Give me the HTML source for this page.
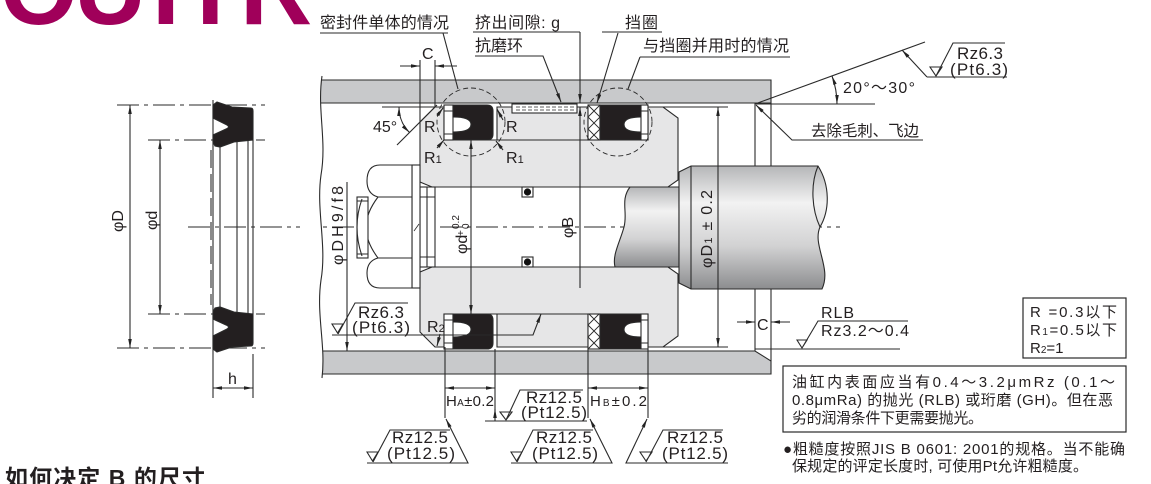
<!DOCTYPE html>
<html><head><meta charset="utf-8"><style>
html,body{margin:0;padding:0;background:#fff;}
svg{display:block;}
text{font-family:"Liberation Sans","Noto Sans CJK SC",sans-serif;fill:#231f20;stroke:none;}
</style></head><body>
<svg width="1151" height="484" viewBox="0 0 1151 484" xmlns="http://www.w3.org/2000/svg">
<defs>
<marker id="ar" viewBox="0 0 10 4" refX="10" refY="2" markerWidth="9" markerHeight="3.6" markerUnits="userSpaceOnUse" orient="auto-start-reverse"><path d="M0,0L10,2L0,4z" fill="#222" stroke="none"/></marker>
<linearGradient id="sh" x1="0" y1="0" x2="0" y2="1">
<stop offset="0" stop-color="#b5b6b8"/><stop offset="0.3" stop-color="#f2f2f2"/><stop offset="0.65" stop-color="#d2d2d3"/><stop offset="1" stop-color="#8c8d8f"/>
</linearGradient>
</defs>

<!-- logo -->
<text y="24" font-size="100" font-weight="bold" style="fill:#a0005a"><tspan x="0">O</tspan><tspan x="74">U</tspan><tspan x="152">H</tspan><tspan x="240">R</tspan></text>

<g stroke="#2a2a2a" stroke-width="1.1" fill="none">
<!-- center line -->
<path d="M188,227 H840" stroke-width="0.9" stroke-dasharray="22 5 4 5"/>

<!-- ===== Left side view ===== -->
<path d="M117,105 H265 M117,348 H265 M148,140 H265 M148,314 H265" stroke-width="0.9" stroke-dasharray="22 5 4 5"/>
<path d="M130,105 V348" marker-start="url(#ar)" marker-end="url(#ar)"/>
<path d="M160,140 V314" marker-start="url(#ar)" marker-end="url(#ar)"/>
<g id="lv">
<path d="M217,102 L232,107 L251,108 Q253,108 253,111 L253,140 L234,142 L220,147 L215,146 L213,142 L213,135 L226,129 Q231,127 226,124.5 L213,118 L213,105 Z" fill="#231f20"/>
</g>
<use href="#lv" transform="matrix(1 0 0 -1 0 454)"/>
<path d="M213,100 V354"/>
<path d="M211,150 V305" stroke-dasharray="18 6"/>
<path d="M220,147 V307 M237,142 V312 M248,140 V314 M253,140 V314"/>
<path d="M213,354 V398 M253,354 V398"/>
<path d="M213,388 H253" marker-start="url(#ar)" marker-end="url(#ar)"/>

<!-- ===== Main: cylinder ===== -->
<path d="M316,80 H771 V103 H316 Z" fill="#c8c9cb"/>
<path d="M316,351 H755 L771,361 V374 H316 Z" fill="#c8c9cb"/>
<path d="M300,76 H322 C317,110 327,140 321,175 C316,210 327,245 321,280 C316,315 326,345 322,378 H300 Z" fill="#fff" stroke="none"/>
<path d="M322,76 C317,110 327,140 321,175 C316,210 327,245 321,280 C316,315 326,345 322,378"/>
<path d="M755,103 V166 M771,103 V166 M755,289 V351 M771,289 V361"/>

<!-- piston -->
<path d="M420,122 L435,107 H444 V140 H497 V107 H588 V140 H648 V107 H663 L678,118 V180 L668,187 H432 L420,182 Z" fill="#e6e6e7"/>
<path d="M420,332 L435,347 H444 V314 H497 V347 H588 V314 H648 V347 H663 L678,336 V274 L668,267 H432 L420,272 Z" fill="#e6e6e7"/>
<path d="M497,140 H588 M497,314 H588"/>

<!-- seals -->
<g id="sl">
<rect x="444" y="105" width="9" height="35" fill="#fff"/>
<path d="M444,111 H453 M444,134 H453"/>
<path d="M453,105 H487 Q493,105 493,111 V134 Q493,140 487,140 H453 V132 Q471,132 471,124.5 Q471,117 453,117 Z" fill="#231f20"/>
<rect x="588" y="105" width="12" height="35" fill="#fff"/>
<path d="M588,105 L600,117 L588,129 L599,140 M600,105 L588,117 L600,129 L589,140" stroke-width="0.9"/>
<path d="M600,105 H641 V117 Q624,117 624,124.5 Q624,132 641,132 V140 H600 Z" fill="#231f20"/>
<rect x="641" y="105" width="7" height="35" fill="#fff"/>
<path d="M641,111 H648 M641,134 H648"/>
</g>
<use href="#sl" transform="matrix(1 0 0 -1 0 454)"/>

<!-- wear ring -->
<rect x="512" y="104" width="65" height="9" fill="#fff"/>
<path d="M516,107 H574 M516,110 H574" stroke-width="0.8" stroke-dasharray="4 2"/>

<!-- dashed circles -->
<circle cx="471" cy="122" r="34" stroke-dasharray="5 3" stroke-width="0.9"/>
<circle cx="618" cy="122" r="34" stroke-dasharray="5 3" stroke-width="0.9"/>

<!-- O-ring grooves -->
<rect x="522" y="187" width="11" height="10" fill="#fff"/>
<rect x="522" y="257" width="11" height="10" fill="#fff"/>
<circle cx="527.5" cy="192" r="3.6" fill="#111" stroke="none"/>
<circle cx="527.5" cy="262" r="3.6" fill="#111" stroke="none"/>

<!-- rod small section -->
<path d="M630,187 H679 V267 H615 C612,255 620,242 624,227 C628,212 620,200 630,187 Z" fill="url(#sh)"/>
<!-- big shaft -->
<path d="M691,166 H818 C830,185 830,210 820,227 C812,245 832,268 822,289 H691 L679,283 V172 Z" fill="url(#sh)"/>
<path d="M818,166 C810,185 812,210 820,227 M691,166 V289"/>

<!-- nut / washer / collar / bolt -->
<rect x="420" y="187" width="15" height="80" fill="#fff"/>
<path d="M427,187 V267 M420,197 H435 M420,257 H435"/>
<rect x="412" y="165" width="8" height="123" fill="#fff"/>
<path d="M412,165 H380 Q367,165 367,181 Q367,194 378,197 Q366,213 366,227 Q366,242 378,258 Q367,261 367,273 Q367,288 380,288 H412 Z" fill="#fff"/>
<path d="M378,197 H412 M378,258 H412"/>
<rect x="357" y="197" width="11" height="61" fill="#fff"/>
<path d="M362,199 Q352,227 362,256 M357,201 H368 M357,254 H368"/>
<path d="M414,231 L419,224" stroke-width="0.8"/>

<!-- ===== top dimensions & leaders ===== -->
<path d="M420,60 V122 M435,60 V107"/>
<path d="M400,66 H420" marker-end="url(#ar)"/>
<path d="M457,66 H435" marker-end="url(#ar)"/>
<path d="M382,107 H444"/>
<path d="M397,145 L437,105"/>
<path d="M399,107 A36,36 0 0 0 409.5,132.5" marker-start="url(#ar)" marker-end="url(#ar)"/>

<path d="M437,116 L443,108" marker-end="url(#ar)"/>
<path d="M503,120 L497,109" marker-end="url(#ar)"/>
<path d="M437,148 L444,140" marker-end="url(#ar)"/>
<path d="M503,150 L496,141" marker-end="url(#ar)"/>

<path d="M320,33 H448 M443,33 L458,89"/>
<path d="M473,32 H580 M580,32 V103" marker-end="url(#ar)"/>
<path d="M580,288 V107" marker-end="url(#ar)"/>
<path d="M475,56 H543 L561,102" marker-end="url(#ar)"/>
<path d="M602,32 H662 M618,33 L597,103" marker-end="url(#ar)"/>
<path d="M640,57 H790 M640,57 L628,89"/>

<!-- right top -->
<path d="M755,104 L925,42 M755,104 H875"/>
<path d="M837,104 A82,82 0 0 0 832,76" marker-start="url(#ar)" marker-end="url(#ar)"/>
<path d="M927,77 H1007 M927,77 L902,50" marker-end="url(#ar)"/>
<path d="M930,67 H942 L936,76 Z M936,76 L953,43 H1005"/>
<path d="M923,140 H792 L756,105" marker-end="url(#ar)"/>

<!-- phi d, phi DH9, phi D1 -->
<path d="M471,140 V314" marker-start="url(#ar)" marker-end="url(#ar)"/>
<path d="M347,182 V351" marker-end="url(#ar)"/>
<path d="M718,107 V347" marker-start="url(#ar)" marker-end="url(#ar)"/>
<path d="M663,107 H728 M662,347 H728"/>

<!-- bottom right C & RLB -->
<path d="M737,322 H755" marker-end="url(#ar)"/>
<path d="M790,322 H771" marker-end="url(#ar)"/>
<path d="M755,349 H900"/>
<path d="M797,340 H807 L802,348 Z M802,348 L818,321 H908"/>

<!-- left lower Rz6.3 -->
<path d="M332,335 H533 L541,314" marker-end="url(#ar)"/>
<path d="M332,324 H343 L337.5,333 Z M338,334 L355,303 H408"/>
<path d="M440,334 L437,346" marker-end="url(#ar)"/>

<!-- H dims -->
<path d="M445,347 V418 M495,349 V418 M588,349 V418 M648,349 V418"/>
<path d="M445,388 H495" marker-start="url(#ar)" marker-end="url(#ar)"/>
<path d="M588,388 H648" marker-start="url(#ar)" marker-end="url(#ar)"/>

<!-- roughness symbols bottom -->
<path d="M485,421 H587"/>
<path d="M500,412 H512 L506,420 Z M506,420 L520,390 H583"/>
<path d="M495,421 V409" marker-end="url(#ar)"/>
<path d="M367,463 H468 L446,419" marker-end="url(#ar)"/>
<path d="M367,452 H378 L372.5,461 Z M373,462 L390,430 H450"/>
<path d="M511,463 H612 L590,419" marker-end="url(#ar)"/>
<path d="M511,452 H522 L516.5,461 Z M517,462 L533,430 H593"/>
<path d="M728,463 H626 L647,419" marker-end="url(#ar)"/>
<path d="M640,452 H652 L646,461 Z M646,462 L663,430 H723"/>

<!-- boxes -->
<rect x="1023" y="298" width="103" height="60" stroke-width="1.2"/>
<rect x="783" y="366" width="343" height="66" stroke-width="1.2"/>
</g>

<!-- ===== texts ===== -->
<g font-size="16">
<text transform="translate(123,232) rotate(-90)">φD</text>
<text transform="translate(157,230) rotate(-90)">φd</text>
<text x="228" y="384">h</text>

<text x="320" y="28" textLength="129">密封件单体的情况</text>
<text x="475" y="28" textLength="85">挤出间隙: g</text>
<text x="475" y="51" textLength="48">抗磨环</text>
<text x="625" y="28" textLength="33">挡圈</text>
<text x="643" y="51" textLength="146">与挡圈并用时的情况</text>
<text x="422" y="59">C</text>
<text x="373" y="132">45°</text>
<text x="424" y="132">R</text>
<text x="506" y="132">R</text>
<text x="424" y="163">R<tspan font-size="11">1</tspan></text>
<text x="506" y="163">R<tspan font-size="11">1</tspan></text>

<text x="843" y="93" textLength="72">20°～30°</text>
<text x="957" y="59" font-size="17" textLength="46">Rz6.3</text>
<text x="950" y="75" font-size="17" textLength="58">(Pt6.3)</text>
<text x="811" y="136" font-size="15.5" textLength="108">去除毛刺、飞边</text>

<text transform="translate(343,265) rotate(-90)" textLength="79">φDH9/f8</text>
<text transform="translate(467,254) rotate(-90)">φd<tspan font-size="10" x="18" y="-3">+</tspan><tspan font-size="10" x="25" y="-8">0.2</tspan><tspan font-size="10" x="25" y="2">0</tspan></text>
<text transform="translate(573,238) rotate(-90)">φB</text>
<text transform="translate(712,268) rotate(-90)" textLength="78">φD<tspan font-size="11">1</tspan> ± 0.2</text>

<text x="757" y="330">C</text>
<text x="821" y="318" textLength="33">RLB</text>
<text x="821" y="336" textLength="88">Rz3.2～0.4</text>

<text x="358" y="318" font-size="17" textLength="46">Rz6.3</text>
<text x="352" y="333" font-size="17" textLength="58">(Pt6.3)</text>
<text x="427" y="332">R<tspan font-size="11">2</tspan></text>

<text x="446" y="406" font-size="15" textLength="48">H<tspan font-size="10">A</tspan>±0.2</text>
<text x="590" y="406" font-size="15" textLength="57">H<tspan font-size="10">B</tspan>±0.2</text>

<text x="526" y="403" font-size="17" textLength="56">Rz12.5</text>
<text x="521" y="418" font-size="17" textLength="66">(Pt12.5)</text>
<text x="392" y="443" font-size="17" textLength="56">Rz12.5</text>
<text x="387" y="459" font-size="17" textLength="68">(Pt12.5)</text>
<text x="536" y="443" font-size="17" textLength="56">Rz12.5</text>
<text x="532" y="459" font-size="17" textLength="66">(Pt12.5)</text>
<text x="667" y="443" font-size="17" textLength="56">Rz12.5</text>
<text x="662" y="459" font-size="17" textLength="66">(Pt12.5)</text>

<text x="1030" y="317" font-size="15" textLength="87">R =0.3以下</text>
<text x="1030" y="335" font-size="15" textLength="87">R<tspan font-size="10">1</tspan>=0.5以下</text>
<text x="1030" y="353" font-size="15">R<tspan font-size="10">2</tspan>=1</text>

<text x="792" y="387" font-size="15" textLength="323">油缸内表面应当有0.4～3.2μmRz (0.1～</text>
<text x="792" y="405" font-size="15" textLength="321">0.8μmRa) 的抛光 (RLB) 或珩磨 (GH)。但在恶</text>
<text x="792" y="423" font-size="15" textLength="191">劣的润滑条件下更需要抛光。</text>
<text x="783" y="454" font-size="15" textLength="342">●粗糙度按照JIS B 0601: 2001的规格。当不能确</text>
<text x="792" y="471" font-size="15" textLength="296">保规定的评定长度时, 可使用Pt允许粗糙度。</text>

<text x="5" y="486" font-size="23" font-weight="bold" textLength="200">如何决定 B 的尺寸</text>
</g>
</svg>
</body></html>
